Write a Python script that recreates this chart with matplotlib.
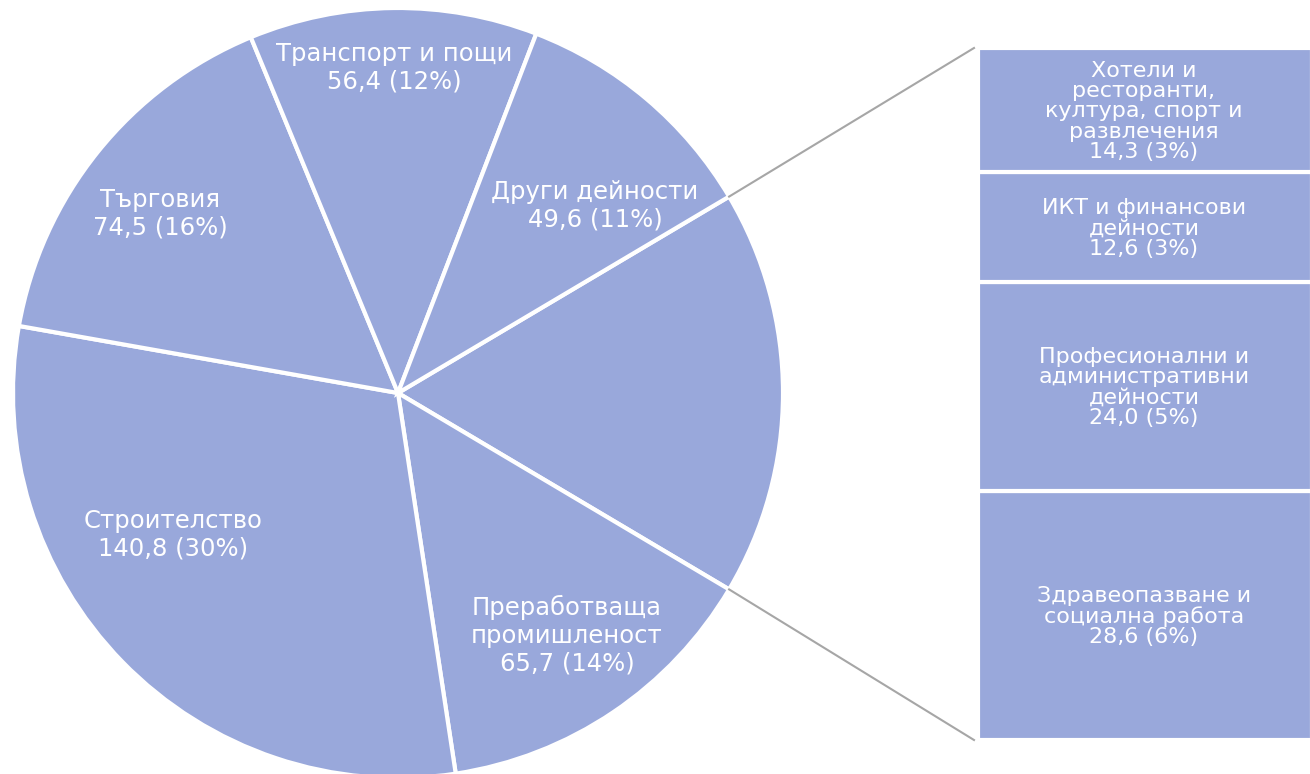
import matplotlib
matplotlib.use("Agg")
import matplotlib.pyplot as plt
import numpy as np

# Data
pie_labels = ["Други", "Преработваща\nпромишленост", "Строителство", "Търговия",
              "Транспорт и пощи", "Други дейности"]
pie_values = [None, 65.7, 140.8, 74.5, 56.4, 49.6]
bar_labels = ["Здравеопазване и\nсоциална работа",
              "Професионални и\nадминистративни\nдейности",
              "ИКТ и финансови\nдейности",
              "Хотели и\nресторанти,\nкултура, спорт и\nразвлечения"]
bar_values = [28.6, 24.0, 12.6, 14.3]

other_total = sum(bar_values)
pie_values[0] = other_total
total = sum(pie_values)

color = "#99A8DB"
plt.rcParams['font.family'] = ['DejaVu Sans']

W, H = 1310, 774
fig = plt.figure(figsize=(W / 100, H / 100), dpi=100)
ax = fig.add_axes([0, 0, 1, 1])
ax.set_xlim(0, W)
ax.set_ylim(0, H)
ax.set_aspect('equal')
ax.axis('off')

cx, cy, R = 398, 381, 385
other_angle = pie_values[0] / total * 360
wedges, _ = ax.pie(pie_values, center=(cx, cy), radius=R, startangle=other_angle / 2,
                   counterclock=False, colors=[color] * len(pie_values),
                   wedgeprops=dict(edgecolor="white", linewidth=3))
ax.set_xlim(0, W)
ax.set_ylim(0, H)

def fmt(v):
    return f"{v:.1f}".replace(".", ",") + f" ({round(v / total * 100):.0f}%)"

# pie labels (skip combined slice)
label_pos = [None, (567, 139), (173, 239), (160, 560), (394, 706), (595, 568)]
for i in range(1, len(pie_values)):
    x, y = label_pos[i]
    ax.text(x, y, pie_labels[i] + "\n" + fmt(pie_values[i]), ha="center", va="center",
            color="white", fontsize=17.5, linespacing=1.2)

# stacked bar
bx0, bx1 = 978, 1312
by0, by1 = 34, 726
scale = (by1 - by0) / other_total
bottom = by0
for lab, v in zip(bar_labels, bar_values):
    h = v * scale
    ax.bar((bx0 + bx1) / 2, h, width=bx1 - bx0, bottom=bottom, color=color,
           edgecolor="white", linewidth=3)
    ax.text((bx0 + 1310) / 2, bottom + h / 2 - 1, lab + "\n" + fmt(v), ha="center",
            va="center", color="white", fontsize=16, linespacing=1.02)
    bottom += h

# connector lines
a1 = np.deg2rad(other_angle / 2)
a2 = np.deg2rad(-other_angle / 2)
ax.plot([cx + R * np.cos(a1), bx0 - 4], [cy + R * np.sin(a1), by1], color="#A6A6A6", lw=1.5)
ax.plot([cx + R * np.cos(a2), bx0 - 4], [cy + R * np.sin(a2), by0], color="#A6A6A6", lw=1.5)

fig.savefig("out.png", dpi=100)
